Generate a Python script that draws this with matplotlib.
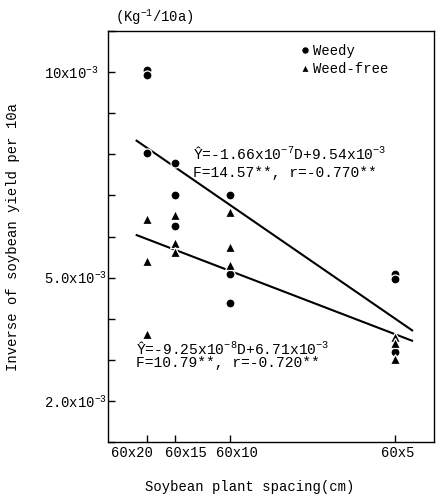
import matplotlib
matplotlib.use('Agg')
import matplotlib.pyplot as plt
import matplotlib.transforms as mtransforms

# plant density per 10a for each spacing (60x20, 60x15, 60x10, 60x5 cm)
spacing_labels = ['60x20', '60x15', '60x10', '60x5']
density = [8333, 11111, 16667, 33333]

# inverse of yield (x10^-3), three plots per spacing
weedy = [[10.05, 9.92, 8.03],
         [7.79, 7.00, 6.26],
         [7.01, 5.10, 4.39],
         [5.10, 4.97, 3.20]]
weed_free = [[6.43, 5.41, 3.64],
             [6.53, 5.85, 5.63],
             [6.60, 5.75, 5.32],
             [3.57, 3.42, 3.03]]

# regression coefficients (slope, intercept) in units of 10^-3
fit_weedy = (-1.66e-4, 9.54)
fit_free = (-9.25e-5, 6.71)
line_range = [7200, 35150]

y_ticks = [1, 2, 3, 4, 5, 6, 7, 8, 9, 10, 11]
y_labels = {10: '10x10$^{-3}$', 5: '5.0x10$^{-3}$', 2: '2.0x10$^{-3}$'}

plt.rcParams['font.family'] = ['Liberation Mono', 'DejaVu Sans Mono']
plt.rcParams['mathtext.fontset'] = 'custom'
plt.rcParams['mathtext.rm'] = 'Liberation Mono'
plt.rcParams['mathtext.it'] = 'Liberation Mono'
plt.rcParams['mathtext.default'] = 'regular'

fig = plt.figure(figsize=(4.37, 4.98), dpi=100)
ax = fig.add_axes([0.247, 0.112, 0.746, 0.826])

# fitted lines
for slope, icpt in (fit_weedy, fit_free):
    ax.plot(line_range, [slope * d + icpt for d in line_range],
            color='black', lw=1.5, zorder=2, solid_capstyle='butt')

# points, with a white rim so the lines break around them
xs_w, ys_w, xs_f, ys_f = [], [], [], []
for d, vw, vf in zip(density, weedy, weed_free):
    xs_w += [d] * len(vw)
    ys_w += vw
    xs_f += [d] * len(vf)
    ys_f += vf
ax.plot(xs_w, ys_w, 'o', ms=6.5, color='black', mec='white', mew=0.9,
        zorder=3, label='Weedy')
ax.plot(xs_f, ys_f, '^', ms=7, color='black', mec='white', mew=0.9,
        zorder=3, label='Weed-free')

ax.set_xlim(4400, 37260)
ax.set_ylim(1, 11)

ax.set_xticks(density)
ax.set_xticklabels(spacing_labels, fontsize=10)
ax.set_yticks(y_ticks)
ax.set_yticklabels([y_labels.get(t, '') for t in y_ticks], fontsize=10)
ax.tick_params(axis='both', direction='in', length=5, width=1)
ax.tick_params(axis='x', pad=3)
ax.tick_params(axis='y', pad=46)
for lab in ax.get_yticklabels():
    lab.set_horizontalalignment('left')

# nudge crowded x tick labels apart
shifts = [-15, 11, 7, 3]
for lab, dx in zip(ax.get_xticklabels(), shifts):
    off = mtransforms.ScaledTranslation(dx / 100, 0, fig.dpi_scale_trans)
    lab.set_transform(lab.get_transform() + off)

for s in ax.spines.values():
    s.set_linewidth(1.0)

ax.text(0.261, 0.703, 'Ŷ=-1.66x10$^{-7}$D+9.54x10$^{-3}$', transform=ax.transAxes,
        fontsize=10.5, va='center', ha='left')
ax.text(0.261, 0.655, 'F=14.57**, r=-0.770**', transform=ax.transAxes,
        fontsize=10.5, va='center', ha='left')
ax.text(0.086, 0.229, 'Ŷ=-9.25x10$^{-8}$D+6.71x10$^{-3}$', transform=ax.transAxes,
        fontsize=10.5, va='center', ha='left')
ax.text(0.086, 0.192, 'F=10.79**, r=-0.720**', transform=ax.transAxes,
        fontsize=10.5, va='center', ha='left')

ax.legend(loc='upper left', bbox_to_anchor=(0.57, 0.985), frameon=False,
          fontsize=10, handlelength=0.6, handletextpad=0.3, borderpad=0,
          labelspacing=0.3, markerscale=0.85)

ax.set_ylabel('Inverse of soybean yield per 10a', fontsize=10)
ax.yaxis.set_label_coords(-0.27, 0.5)
fig.text(154 / 437, 1 - 17 / 498, '(Kg$^{-1}$/10a)', fontsize=10,
         ha='center', va='center')
fig.text(250 / 437, 1 - 487 / 498, 'Soybean plant spacing(cm)', fontsize=10,
         ha='center', va='center')

fig.savefig('out.png', dpi=100)
